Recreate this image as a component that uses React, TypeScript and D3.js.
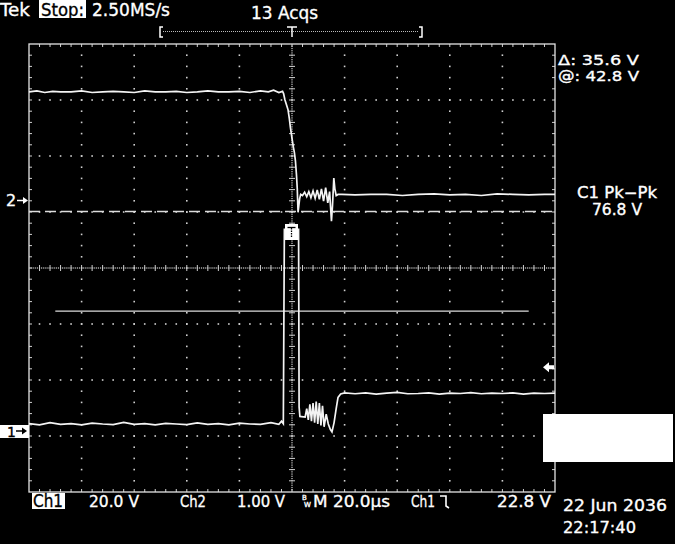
import React from "react";
import * as d3 from "d3";

// ---- Data ----
// Time axis in microseconds (20 µs/div, trigger at centre)
const timeDomain = [-100, 100];
// Channel 1: 20.0 V/div (bottom trace)
const ch1Time = [
  -100, -96, -92, -88, -84, -80, -76, -72, -68, -64, -60, -56, -52, -48, -44, -40, -36, -32, -28, -24, -20,
  -16, -12, -8, -5, -4, -3.3, -2.9, 2.5, 2.7, 3.0, 5.0, 5.6, 6.2, 6.8, 7.4, 8.0, 8.6, 9.2, 9.8, 10.4, 11.0,
  11.6, 12.2, 13.0, 13.8, 14.6, 15.2, 16.0, 16.8, 17.5, 18.5, 20, 24, 28, 32, 36, 40, 44, 48, 52, 56, 60,
  64, 68, 72, 76, 80, 84, 88, 92, 96, 100,
];
const ch1Volt = [
  2.6, 2.2, 3.0, 2.4, 2.6, 2.2, 2.8, 2.5, 2.3, 3.1, 2.4, 2.6, 2.2, 2.7, 2.5, 2.3, 2.9, 2.4, 2.6, 2.2, 2.8,
  2.5, 2.4, 3.0, 2.4, 3.5, 2.6, 72, 72, 8.6, 5.2, 5.0, 8.0, 4.0, 9.5, 3.5, 10.0, 3.0, 10.5, 2.5, 10.0, 2.0,
  9.0, 1.5, 6.0, 2.5, 0.5, -0.3, 3.0, 8.0, 12.0, 13.2, 13.6, 13.3, 13.6, 13.2, 13.5, 13.8, 13.3, 13.4, 13.6,
  13.2, 13.5, 13.4, 13.7, 13.3, 13.5, 13.4, 13.6, 13.2, 13.5, 13.4, 13.5,
];
// Channel 2: 1.00 V/div (top trace)
const ch2Time = [
  -100, -97, -94, -91, -88, -84, -80, -76, -72, -68, -64, -60, -56, -52, -48, -44, -40, -36, -32, -28, -24,
  -20, -16, -12, -9, -7, -5, -3.6, -3.2, -2.7, -2.1, -1.5, -1.0, -0.6, 0, 0.5, 0.9, 1.3, 1.7, 2.0, 2.3,
  2.6, 2.9, 3.3, 4, 4.8, 5.6, 6.4, 7.2, 8, 8.8, 9.6, 10.4, 11.2, 12, 12.8, 13.6, 14.3, 15, 15.4, 15.9,
  16.3, 16.8, 17.5, 19, 24, 30, 36, 42, 48, 54, 60, 66, 72, 78, 84, 90, 96, 100,
];
const ch2Volt = [
  1.93, 1.95, 1.92, 1.94, 1.93, 1.93, 1.95, 1.92, 1.93, 1.94, 1.93, 1.92, 1.95, 1.93, 1.93, 1.94, 1.92,
  1.93, 1.95, 1.93, 1.93, 1.94, 1.92, 1.95, 1.93, 1.96, 1.92, 1.94, 1.9, 1.79, 1.7, 1.61, 1.45, 1.29, 1.1,
  0.95, 0.85, 0.7, 0.45, 0.2, -0.22, -0.1, 0.02, 0.1, 0.08, 0.14, 0.06, 0.15, 0.04, 0.16, 0.03, 0.18, 0.01,
  0.2, -0.02, 0.22, -0.05, 0.15, -0.38, -0.1, 0.39, 0.2, 0.08, 0.1, 0.1, 0.09, 0.1, 0.1, 0.08, 0.1,
  0.11, 0.09, 0.1, 0.08, 0.11, 0.1, 0.09, 0.1, 0.1,
];
// Cursors (Ch1 volts): "@" cursor and Δ
const cursorAt = 42.8;
const cursorDelta = 35.6;
const triggerLevel = 22.8;

const topLabels = ["Tek", "Stop:", "2.50MS/s", "13 Acqs"];
const readouts = ["Δ: 35.6 V", "@: 42.8 V", "C1 Pk−Pk", "76.8 V"];
const bottomLabels = ["Ch1", "20.0 V", "Ch2", "1.00 V", "M 20.0µs", "Ch1", "22.8 V"];
const dateLabels = ["22 Jun 2036", "22:17:40"];

const W = 675;
const H = 544;
const L = 29, R = 555, T = 44, B = 492;

export default function App() {
  const x = d3.scaleLinear().domain(timeDomain).range([L, R]);
  const gx = d3.scaleLinear().domain([0, 10]).range([L, R]);
  const gy = d3.scaleLinear().domain([0, 8]).range([T, B]);
  const y1 = d3.scaleLinear().domain([0, 20]).range([431, 375]);
  const y2 = d3.scaleLinear().domain([0, 1]).range([200, 144]);

  const line1 = d3
    .line<number>()
    .x((_, i) => x(ch1Time[i]))
    .y((v) => y1(v));
  const line2 = d3
    .line<number>()
    .x((_, i) => x(ch2Time[i]))
    .y((v) => y2(v));

  const grid: React.ReactNode[] = [];
  const dotColor = "#d0d0d0";
  for (let i = 1; i < 10; i++) {
    if (i === 5) continue;
    for (let j = 1; j < 40; j++) {
      grid.push(<rect key={`v${i}-${j}`} x={gx(i) - 0.8} y={gy(j / 5) - 0.8} width={1.6} height={1.6} fill={dotColor} />);
    }
  }
  for (let k = 1; k < 8; k++) {
    if (k === 4) continue;
    for (let j = 1; j < 50; j++) {
      grid.push(<rect key={`h${k}-${j}`} x={gx(j / 5) - 0.8} y={gy(k) - 0.8} width={1.6} height={1.6} fill={dotColor} />);
    }
  }
  const cx = gx(5), cy = gy(4);
  for (let j = 1; j < 200; j++) {
    const yy = gy(j / 25);
    grid.push(<rect key={`cv${j}`} x={cx - 0.6} y={yy - 0.6} width={1.2} height={1.2} fill={dotColor} />);
  }
  for (let j = 1; j < 250; j++) {
    const xx = gx(j / 25);
    grid.push(<rect key={`ch${j}`} x={xx - 0.6} y={cy - 0.6} width={1.2} height={1.2} fill={dotColor} />);
  }
  for (let j = 1; j < 40; j++) {
    grid.push(<line key={`ctv${j}`} x1={cx - 3} x2={cx + 3} y1={gy(j / 5)} y2={gy(j / 5)} stroke={dotColor} strokeWidth={1} />);
    grid.push(<line key={`tl${j}`} x1={L} x2={L + 3} y1={gy(j / 5)} y2={gy(j / 5)} stroke={dotColor} strokeWidth={1} />);
    grid.push(<line key={`tr${j}`} x1={R - 3} x2={R} y1={gy(j / 5)} y2={gy(j / 5)} stroke={dotColor} strokeWidth={1} />);
  }
  for (let j = 1; j < 50; j++) {
    grid.push(<line key={`cth${j}`} x1={gx(j / 5)} x2={gx(j / 5)} y1={cy - 3} y2={cy + 3} stroke={dotColor} strokeWidth={1} />);
    grid.push(<line key={`tt${j}`} x1={gx(j / 5)} x2={gx(j / 5)} y1={T} y2={T + 3} stroke={dotColor} strokeWidth={1} />);
    grid.push(<line key={`tb${j}`} x1={gx(j / 5)} x2={gx(j / 5)} y1={B - 3} y2={B} stroke={dotColor} strokeWidth={1} />);
  }

  const font = "'DejaVu Sans', sans-serif";
  const txt = (s: string, xx: number, yy: number, size: number, tl?: number, fill = "#fff") => (
    <text
      x={xx}
      y={yy}
      fontSize={size}
      fontFamily={font}
      fill={fill}
      stroke={fill}
      strokeWidth={0.35}
      textLength={tl}
      lengthAdjust={tl ? "spacingAndGlyphs" : undefined}
    >
      {s}
    </text>
  );

  const yc1 = y1(cursorAt);
  const yc2 = y1(cursorAt + cursorDelta);
  const yt = y1(triggerLevel);

  return (
    <svg width={W} height={H} style={{ position: "fixed", left: 0, top: 0, background: "#000" }}>
      <rect x={0} y={0} width={W} height={H} fill="#000" />
      {grid}
      <rect x={L} y={T} width={R - L} height={B - T} fill="none" stroke="#e4e4e4" strokeWidth={1.3} />

      {/* cursors */}
      <line x1={L} x2={R} y1={yc2} y2={yc2} stroke="#dcdcdc" strokeWidth={1.3} strokeDasharray="11 5" />
      <line x1={gx(0.5)} x2={gx(9.5)} y1={yc1} y2={yc1} stroke="#dcdcdc" strokeWidth={1.3} />

      {/* traces */}
      <path d={line2(ch2Volt) || ""} fill="none" stroke="#f4f4f4" strokeWidth={1.7} />
      <path d={line1(ch1Volt) || ""} fill="none" stroke="#f4f4f4" strokeWidth={1.7} />

      {/* trigger position marker box */}
      <rect x={285} y={224} width={13} height={16} fill="#fff" />
      <line x1={287.5} x2={295.5} y1={227.5} y2={227.5} stroke="#000" strokeWidth={1.3} />
      <line x1={291.5} x2={291.5} y1={228} y2={238} stroke="#000" strokeWidth={1.3} strokeDasharray="1.5 1" />

      {/* channel ground markers */}
      {txt("2", 6, 206, 16)}
      <line x1={17} x2={25} y1={y2(0) + 0.5} y2={y2(0) + 0.5} stroke="#fff" strokeWidth={1.5} />
      <path d={`M${28},${y2(0) + 0.5} L${23},${y2(0) - 3} L${23},${y2(0) + 4} Z`} fill="#fff" />
      <rect x={0} y={y1(0) - 6} width={L} height={13} fill="#fff" />
      {txt("1", 7, y1(0) + 5.5, 14, undefined, "#000")}
      <line x1={16} x2={24} y1={y1(0)} y2={y1(0)} stroke="#000" strokeWidth={1.5} />
      <path d={`M${27},${y1(0)} L${22},${y1(0) - 3.5} L${22},${y1(0) + 3.5} Z`} fill="#000" />

      {/* trigger level arrow */}
      <path d={`M543,${yt} L549,${yt - 5} L549,${yt - 2} L554,${yt - 2} L554,${yt + 2} L549,${yt + 2} L549,${yt + 5} Z`} fill="#fff" />

      {/* top bar */}
      {txt(topLabels[0], 0, 16, 18.5, 30)}
      <rect x={39} y={0} width={47} height={18} fill="#fff" />
      {txt(topLabels[1], 41, 16, 18.5, 43, "#000")}
      {txt(topLabels[2], 92, 16, 18, 78)}
      {txt(topLabels[3], 251, 19, 18, 67)}
      {/* record bracket */}
      <path d="M163,27 H160 V37 H163" fill="none" stroke="#fff" strokeWidth={1.5} />
      <path d="M419,27 H422 V37 H419" fill="none" stroke="#fff" strokeWidth={1.5} />
      <line x1={163} x2={419} y1={31.5} y2={31.5} stroke="#bbb" strokeWidth={1} strokeDasharray="1 1" />
      <line x1={287} x2={297} y1={27} y2={27} stroke="#fff" strokeWidth={1.5} />
      <line x1={292} x2={292} y1={27} y2={37} stroke="#fff" strokeWidth={1.5} />

      {/* right readouts */}
      {txt(readouts[0], 558, 65, 14.5, 81)}
      {txt(readouts[1], 558, 81, 14.5, 81)}
      {txt(readouts[2], 577, 198, 15, 80)}
      {txt(readouts[3], 592, 215, 15, 50)}

      {/* white box */}
      <rect x={543} y={414} width={130} height={48} fill="#fff" />

      {/* bottom bar */}
      <rect x={32} y={493} width={33} height={16} fill="#fff" />
      {txt(bottomLabels[0], 33, 507, 17, 30, "#000")}
      {txt(bottomLabels[1], 89, 507, 16.5, 50)}
      {txt(bottomLabels[2], 180, 507, 16.5, 26)}
      {txt(bottomLabels[3], 237, 507, 16.5, 48)}
      {txt("B", 302, 500, 7)}
      {txt("W", 304, 507, 7)}
      {txt(bottomLabels[4], 313, 507, 16.5, 77)}
      {txt(bottomLabels[5], 411, 507, 16.5, 24)}
      <path d="M440,496 H446 V506 L449,508" fill="none" stroke="#fff" strokeWidth={1.6} />
      {txt(bottomLabels[6], 497, 507, 16.5, 54)}
      {txt(dateLabels[0], 563, 511, 16.5, 104)}
      {txt(dateLabels[1], 563, 533, 16.5, 73)}
    </svg>
  );
}
